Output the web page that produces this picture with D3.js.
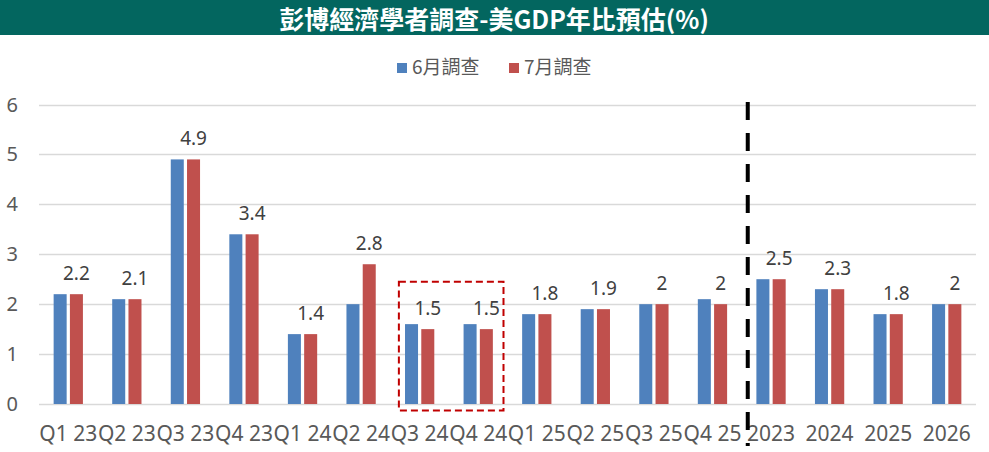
<!DOCTYPE html>
<html>
<head>
<meta charset="utf-8">
<script src="https://cdn.jsdelivr.net/npm/d3@7"></script>
<style>
  html, body { margin: 0; padding: 0; background: #fff; }
  svg { display: block; }
</style>
</head>
<body>
<svg id="chart" width="989" height="452"></svg>
<script>
const title = "彭博經濟學者調查-美GDP年比預估(%)";
const categories = ["Q1 23","Q2 23","Q3 23","Q4 23","Q1 24","Q2 24","Q3 24","Q4 24","Q1 25","Q2 25","Q3 25","Q4 25","2023","2024","2025","2026"];
const seriesNames = ["6月調查","7月調查"];
const juneValues = [2.2, 2.1, 4.9, 3.4, 1.4, 2.0, 1.6, 1.6, 1.8, 1.9, 2.0, 2.1, 2.5, 2.3, 1.8, 2.0];
const julyValues = [2.2, 2.1, 4.9, 3.4, 1.4, 2.8, 1.5, 1.5, 1.8, 1.9, 2.0, 2.0, 2.5, 2.3, 1.8, 2.0];
const yTicks = [0, 1, 2, 3, 4, 5, 6];
const highlightCats = ["Q3 24", "Q4 24"];
const dividerBefore = "2023";

const colors = ["#4F81BD", "#C0504D"];
const svg = d3.select("#chart");
const W = 989;

// Title bar
svg.append("rect").attr("x", 0).attr("y", 0).attr("width", W).attr("height", 35).attr("fill", "#03665F");
svg.append("text").attr("x", 494).attr("y", 28.5).attr("text-anchor", "middle")
  .attr("fill", "#fff").attr("font-family", "'Noto Sans CJK TC', 'Noto Sans', sans-serif")
  .attr("font-size", 25).attr("font-weight", "bold").text(title);

// Legend
const legendX = [397, 509];
seriesNames.forEach((s, i) => {
  svg.append("rect").attr("x", legendX[i]).attr("y", 63).attr("width", 10).attr("height", 10).attr("fill", colors[i]);
  svg.append("text").attr("x", legendX[i] + 15).attr("y", 74)
    .attr("font-family", "'Noto Sans CJK TC', 'Noto Sans', sans-serif").attr("font-size", 19)
    .attr("fill", "#595959").text(s);
});

// Scales
const x = d3.scaleBand().domain(categories).range([39, 976]).padding(0);
const bw = x.bandwidth();
const x1 = d3.scaleBand().domain([0, 1]).range([bw * 0.25, bw * 0.75]).paddingInner(0.2).paddingOuter(0);
const y = d3.scaleLinear().domain([0, 6]).range([404, 104.5]);

// Gridlines
svg.append("g").selectAll("line").data(yTicks).join("line")
  .attr("x1", 39).attr("x2", 976)
  .attr("y1", d => Math.round(y(d)) + 0.5).attr("y2", d => Math.round(y(d)) + 0.5)
  .attr("stroke", "#D9D9D9").attr("stroke-width", 1.5);

// Y axis labels
svg.append("g").selectAll("text").data(yTicks).join("text")
  .attr("x", 18).attr("y", d => y(d) + 7).attr("text-anchor", "end")
  .attr("font-family", "'Noto Sans', sans-serif").attr("font-size", 20).attr("fill", "#595959")
  .text(d => d);

// Bars
const seriesData = [juneValues, julyValues];
seriesData.forEach((vals, si) => {
  svg.append("g").selectAll("rect").data(vals).join("rect")
    .attr("x", (d, i) => x(categories[i]) + x1(si))
    .attr("width", x1.bandwidth())
    .attr("y", d => y(d))
    .attr("height", d => y(0) - y(d))
    .attr("fill", colors[si]);
});

// Value labels (July)
svg.append("g").selectAll("text").data(julyValues).join("text")
  .attr("x", (d, i) => x(categories[i]) + x1(1) + x1.bandwidth() / 2)
  .attr("y", d => y(d) - 14)
  .attr("text-anchor", "middle")
  .attr("font-family", "'Noto Sans', sans-serif").attr("font-size", 19).attr("fill", "#404040")
  .text(d => String(d));

// X labels
svg.append("g").selectAll("text").data(categories).join("text")
  .attr("x", d => x(d) + bw / 2).attr("y", 441).attr("text-anchor", "middle")
  .attr("font-family", "'Noto Sans', sans-serif").attr("font-size", 21).attr("fill", "#595959")
  .text(d => d);

// Highlight box
const hx0 = x(highlightCats[0]) + 8.5;
const hx1 = x(highlightCats[1]) + bw - 4;
svg.append("rect").attr("x", hx0).attr("y", y(2.45)).attr("width", hx1 - hx0).attr("height", y(-0.13) - y(2.45))
  .attr("fill", "none").attr("stroke", "#C00000").attr("stroke-width", 2).attr("stroke-dasharray", "7,4");

// Divider line
const dx = x(dividerBefore) + 6;
svg.append("line").attr("x1", dx).attr("x2", dx).attr("y1", 102).attr("y2", 446)
  .attr("stroke", "#000").attr("stroke-width", 4).attr("stroke-dasharray", "18,13");
</script>
</body>
</html>
